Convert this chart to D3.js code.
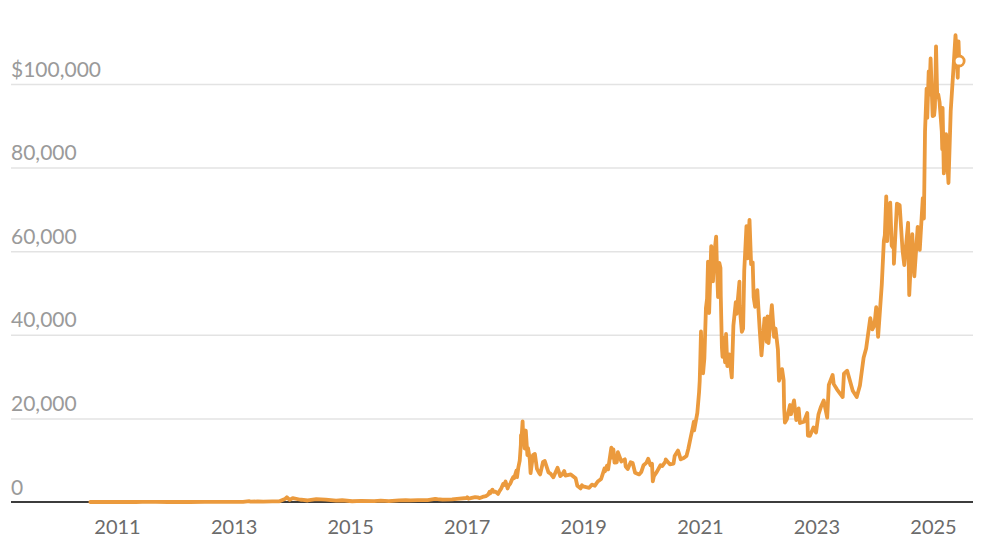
<!DOCTYPE html>
<html>
<head>
<meta charset="utf-8">
<script src="https://cdn.jsdelivr.net/npm/d3@7"></script>
<style>
  html, body { margin: 0; padding: 0; background: #fff; }
  svg { display: block; }
</style>
</head>
<body>
<svg id="chart" width="1000" height="547"></svg>
<script>
// ---- DATA (USD price of bitcoin) ----
const price2010_2016 = [
  ["2010-07-18",0.09],["2010-10-01",0.06],["2010-11-07",0.39],["2011-01-01",0.3],["2011-02-10",1.0],
  ["2011-04-01",0.8],["2011-05-01",3.5],["2011-06-08",29.6],["2011-07-01",15],["2011-09-01",8],
  ["2011-11-18",2.1],["2012-01-01",5.3],["2012-04-01",4.9],["2012-07-01",6.7],["2012-08-17",12.5],
  ["2012-10-01",12.4],["2013-01-01",13.5],["2013-03-01",34],["2013-04-09",230],["2013-04-16",68],
  ["2013-06-01",129],["2013-07-05",68],["2013-09-01",140],["2013-10-15",150],["2013-11-18",700],
  ["2013-11-30",1130],["2013-12-18",520],["2014-01-06",950],["2014-02-25",540],["2014-03-01",560],
  ["2014-04-10",360],["2014-06-03",670],["2014-08-01",590],["2014-10-05",320],["2014-11-12",420],
  ["2015-01-14",178],["2015-03-11",290],["2015-06-01",225],["2015-07-12",310],["2015-09-01",230],
  ["2015-11-04",400],["2015-12-15",450],["2016-01-15",375],["2016-03-01",430],["2016-05-01",450],
  ["2016-06-17",760],["2016-07-01",670],["2016-08-02",550],["2016-10-01",610],["2016-11-01",730],
  ["2016-12-31",960]
];
const price2017_2019 = [
  ["2017-01-04",1150],["2017-01-11",780],["2017-02-01",980],["2017-02-23",1180],["2017-03-10",1110],
  ["2017-03-24",930],["2017-04-10",1210],["2017-05-01",1420],["2017-05-15",1750],["2017-05-24",2450],
  ["2017-05-27",2050],["2017-06-11",2960],["2017-06-15",2440],["2017-06-30",2480],["2017-07-16",1930],
  ["2017-07-25",2600],["2017-08-05",3230],["2017-08-17",4330],["2017-08-22",4090],["2017-09-01",4890],
  ["2017-09-14",3230],["2017-09-20",3900],["2017-10-01",4400],["2017-10-12",5430],["2017-10-20",6000],
  ["2017-10-25",5700],["2017-11-08",7460],["2017-11-12",5950],["2017-11-20",8200],["2017-11-29",9900],
  ["2017-12-06",13800],["2017-12-07",16000],["2017-12-10",15000],["2017-12-17",19300],["2017-12-22",13800],
  ["2017-12-27",15800],["2017-12-30",12800],
  ["2018-01-06",17100],["2018-01-16",11200],["2018-01-20",12900],["2018-01-31",10200],["2018-02-05",6900],
  ["2018-02-20",11200],["2018-03-04",11500],["2018-03-17",7900],["2018-03-31",6900],["2018-04-06",6600],
  ["2018-04-24",9600],["2018-05-05",9800],["2018-05-28",7100],["2018-06-10",6800],["2018-06-28",5900],
  ["2018-07-24",8200],["2018-08-10",6200],["2018-08-24",6700],["2018-09-04",7400],["2018-09-11",6300],
  ["2018-10-15",6600],["2018-11-14",5700],["2018-11-25",3900],["2018-12-15",3250],["2018-12-24",4000],
  ["2018-12-31",3750],
  ["2019-01-20",3550],["2019-02-07",3400],["2019-02-24",4150],["2019-03-15",3900],["2019-04-02",4900],
  ["2019-04-23",5500],["2019-05-14",8000],["2019-05-17",7300],["2019-05-30",8700],["2019-06-06",7800],
  ["2019-06-26",13000],["2019-07-02",10600],["2019-07-09",12600],["2019-07-16",9400],["2019-07-30",9500],
  ["2019-08-06",11900],["2019-08-28",9700],["2019-09-19",10200],["2019-09-24",8500],["2019-10-07",7900],
  ["2019-10-25",9500],["2019-11-07",9300],["2019-11-22",7000],["2019-12-17",6600],["2019-12-31",7200]
];
const price2020_2022 = [
  ["2020-01-14",8800],["2020-01-31",9350],["2020-02-12",10350],["2020-02-26",8800],["2020-03-07",9150],
  ["2020-03-12",4950],["2020-03-19",6200],["2020-04-06",7200],["2020-04-29",8800],["2020-05-10",8600],
  ["2020-05-31",9700],["2020-06-01",10200],["2020-06-27",9000],["2020-07-20",9200],["2020-07-27",11000],
  ["2020-08-17",12300],["2020-09-03",10200],["2020-09-22",10500],["2020-10-09",11000],["2020-10-21",12800],
  ["2020-11-05",15600],["2020-11-17",17700],["2020-11-24",19200],["2020-11-26",17150],["2020-12-16",21300],
  ["2020-12-27",26300],["2020-12-31",29000],
  ["2021-01-03",33000],["2021-01-08",40800],["2021-01-11",35500],["2021-01-13",37300],["2021-01-21",30800],
  ["2021-01-29",34300],["2021-02-08",46400],["2021-02-15",48600],["2021-02-21",57500],["2021-02-28",45200],
  ["2021-03-13",61200],["2021-03-24",52800],["2021-03-31",58900],["2021-04-13",63500],["2021-04-18",56200],
  ["2021-04-25",49000],["2021-05-03",57200],["2021-05-10",56000],["2021-05-12",49200],["2021-05-19",37000],
  ["2021-05-23",34700],["2021-05-26",39300],["2021-06-08",33400],["2021-06-14",40200],["2021-06-22",32500],
  ["2021-07-04",35300],["2021-07-20",29800],["2021-07-30",42200],["2021-08-14",47800],["2021-08-19",45000],
  ["2021-09-06",52700],["2021-09-07",46900],["2021-09-21",40700],["2021-09-29",41500],["2021-10-06",55300],
  ["2021-10-20",66000],["2021-10-27",58300],["2021-11-08",67500],["2021-11-18",56900],["2021-11-28",57300],
  ["2021-12-04",49000],["2021-12-13",46700],["2021-12-27",50700],
  ["2022-01-10",41800],["2022-01-22",35100],["2022-02-10",43900],["2022-02-24",38300],["2022-03-01",44400],
  ["2022-03-07",38000],["2022-03-28",47100],["2022-04-11",39500],["2022-04-20",41500],["2022-05-05",36500],
  ["2022-05-12",29000],["2022-05-31",31800],["2022-06-10",29100],["2022-06-13",22500],["2022-06-18",19000],
  ["2022-06-30",19800],["2022-07-20",23200],["2022-07-26",21000],["2022-08-14",24300],["2022-08-28",19600],
  ["2022-09-12",22400],["2022-09-20",18900],["2022-10-15",19200],["2022-11-05",21300],["2022-11-09",15900],
  ["2022-11-21",15800],["2022-12-14",17800],["2022-12-30",16600]
];
const price2023_2025 = [
  ["2023-01-14",20900],["2023-01-30",22800],["2023-02-16",24300],["2023-03-10",20200],["2023-03-20",28000],
  ["2023-04-13",30400],["2023-04-20",28200],["2023-05-11",26900],["2023-06-15",25100],["2023-06-23",30700],
  ["2023-07-13",31400],["2023-08-17",26600],["2023-09-11",25100],["2023-10-01",27900],["2023-10-24",34500],
  ["2023-11-09",36700],["2023-12-05",44000],["2023-12-18",41300],["2023-12-31",42300],
  ["2024-01-11",46600],["2024-01-23",39500],["2024-02-15",52000],["2024-02-28",62500],["2024-03-05",63800],
  ["2024-03-14",73100],["2024-03-20",62400],["2024-03-27",69500],["2024-04-08",71600],["2024-04-17",61300],
  ["2024-04-30",60600],["2024-05-01",57000],["2024-05-20",71400],["2024-06-06",71000],["2024-06-24",60300],
  ["2024-07-05",56700],["2024-07-29",66800],["2024-08-05",49500],["2024-08-24",64100],["2024-09-06",54000],
  ["2024-09-27",65800],["2024-10-10",60300],["2024-10-29",72700],["2024-11-05",67800],["2024-11-12",88600],
  ["2024-11-22",98900],["2024-11-26",91900],["2024-12-05",103000],["2024-12-09",97400],["2024-12-17",106100],
  ["2024-12-30",92300],
  ["2025-01-08",92500],["2025-01-13",94500],["2025-01-20",109000],["2025-01-27",97700],["2025-02-03",97500],
  ["2025-02-11",95700],["2025-02-25",88700],["2025-02-28",84400],["2025-03-02",94300],["2025-03-10",78600],
  ["2025-03-24",88000],["2025-03-30",82300],["2025-04-08",76300],["2025-04-22",93500],["2025-05-08",103000],
  ["2025-05-22",111700],["2025-05-27",108900],["2025-06-05",101500],["2025-06-10",110200],["2025-06-14",105500]
];
const yTickValues = [0, 20000, 40000, 60000, 80000, 100000];
const xTickYears = [2011, 2013, 2015, 2017, 2019, 2021, 2023, 2025];

// ---- CHART ----
const parse = d3.timeParse("%Y-%m-%d");
const series = [].concat(price2010_2016, price2017_2019, price2020_2022, price2023_2025)
  .map(([d, v]) => ({ date: parse(d), value: v }));

const svg = d3.select("#chart");
const plotLeft = 11, plotRight = 973;

const x = d3.scaleTime()
  .domain([new Date(2011, 0, 1), new Date(2025, 0, 1)])
  .range([117, 933]);
const y = d3.scaleLinear().domain([0, 100000]).range([502, 84]);

const fmt = d3.format(",");

// gridlines + y labels
const yAxis = d3.axisRight(y)
  .tickValues(yTickValues)
  .tickSize(plotRight - plotLeft)
  .tickFormat(d => d === 100000 ? "$" + fmt(d) : fmt(d));

const gy = svg.append("g")
  .attr("transform", `translate(${plotLeft},0)`)
  .call(yAxis);
gy.select(".domain").remove();
gy.selectAll(".tick line")
  .attr("stroke", "#e3e3e3")
  .attr("stroke-width", 1.5);
gy.selectAll(".tick text")
  .attr("x", 0)
  .attr("y", -8)
  .attr("dy", 0)
  .attr("text-anchor", "start")
  .attr("fill", "#9a9a9a")
  .style("font-family", "Lato, 'Open Sans', sans-serif")
  .style("font-size", "21px");
gy.selectAll(".tick").filter(d => d === 0).select("line").remove();

// x axis
const xAxis = d3.axisBottom(x)
  .tickValues(xTickYears.map(yr => new Date(yr, 0, 1)))
  .tickSize(0)
  .tickFormat(d3.timeFormat("%Y"));
const gx = svg.append("g")
  .attr("transform", `translate(0,${y(0)})`)
  .call(xAxis);
gx.select(".domain").remove();
gx.selectAll(".tick text")
  .attr("y", 32)
  .attr("dy", 0)
  .attr("fill", "#6b6b6b")
  .style("font-family", "Lato, 'Open Sans', sans-serif")
  .style("font-size", "20px");

// baseline
svg.append("line")
  .attr("x1", plotLeft).attr("x2", plotRight)
  .attr("y1", y(0)).attr("y2", y(0))
  .attr("stroke", "#3c3c3c")
  .attr("stroke-width", 2);

// price line
const line = d3.line()
  .x(d => x(d.date))
  .y(d => y(d.value));

svg.append("path")
  .datum(series)
  .attr("fill", "none")
  .attr("stroke", "#eb9a3d")
  .attr("stroke-width", 3.8)
  .attr("stroke-linejoin", "round")
  .attr("stroke-linecap", "round")
  .attr("d", line);

// end marker
const last = series[series.length - 1];
svg.append("circle")
  .attr("cx", x(last.date))
  .attr("cy", y(last.value))
  .attr("r", 5)
  .attr("fill", "#fff")
  .attr("stroke", "#eb9a3d")
  .attr("stroke-width", 2.8);
</script>
</body>
</html>
